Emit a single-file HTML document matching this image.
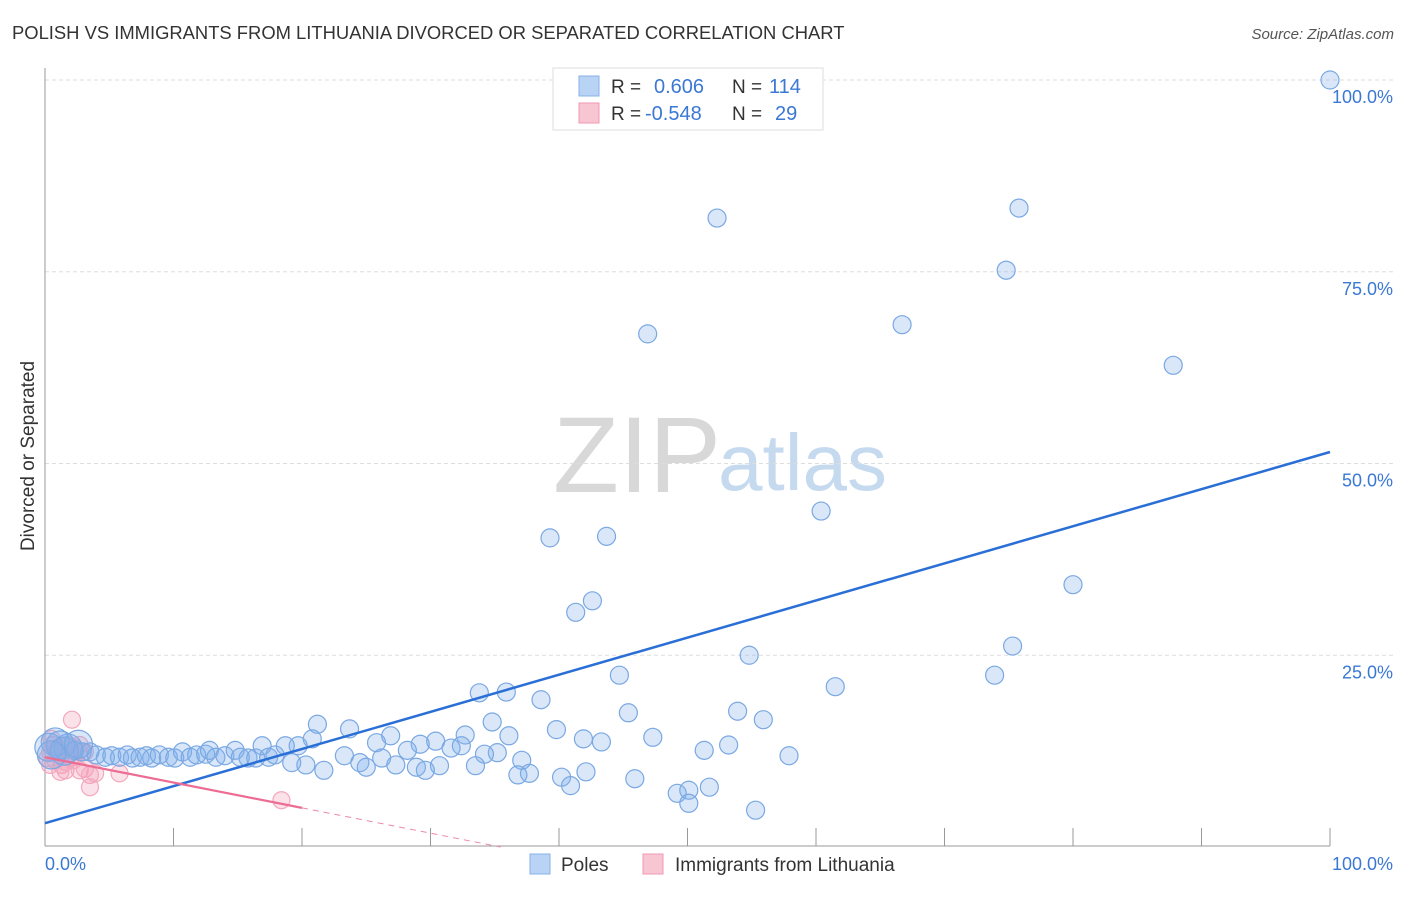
<!DOCTYPE html>
<html><head><meta charset="utf-8">
<style>
body{margin:0;background:#fff;font-family:"Liberation Sans",sans-serif;}
svg text{font-family:"Liberation Sans",sans-serif;}
</style></head>
<body>
<svg id="chart" width="1406" height="892" viewBox="0 0 1406 892" xmlns="http://www.w3.org/2000/svg">
<text x="12" y="39" font-size="18.4" fill="#333">POLISH VS IMMIGRANTS FROM LITHUANIA DIVORCED OR SEPARATED CORRELATION CHART</text>
<text x="1394" y="39" font-size="15" fill="#555" text-anchor="end" font-style="italic">Source: ZipAtlas.com</text>
<g>
<text x="553" y="492" font-size="108" fill="#d8d8d8" font-family="Liberation Serif,serif">ZIP</text>
<text x="718" y="490" font-size="80" fill="#c5d9ef">atlas</text>
</g>
<g id="grid"></g>
<line x1="45" y1="68" x2="45" y2="846" stroke="#999"/>
<line x1="45" y1="846" x2="1330" y2="846" stroke="#999"/>
<g id="ticks"></g>
<text transform="translate(34,456) rotate(-90)" font-size="19" fill="#333" text-anchor="middle">Divorced or Separated</text>
<text x="45" y="870" font-size="18" fill="#3a78d4">0.0%</text>
<text x="1393" y="870" font-size="18" fill="#3a78d4" text-anchor="end">100.0%</text>
<g id="pts"></g>
<g id="lines"></g>
<g>
<rect x="553" y="68" width="270" height="62" fill="#fff" stroke="#ddd"/>
<rect x="579" y="76" width="20" height="20" fill="#b9d3f5" stroke="#86b0e8"/>
<rect x="579" y="103" width="20" height="20" fill="#f8c6d3" stroke="#ef9ab1"/>
<text x="611" y="93" font-size="19" fill="#333">R =</text>
<text x="654" y="93" font-size="20" fill="#3a78d4">0.606</text>
<text x="732" y="93" font-size="19" fill="#333">N =</text>
<text x="769" y="93" font-size="20" fill="#3a78d4">114</text>
<text x="611" y="120" font-size="19" fill="#333">R =</text>
<text x="645" y="120" font-size="20" fill="#3a78d4">-0.548</text>
<text x="732" y="120" font-size="19" fill="#333">N =</text>
<text x="775" y="120" font-size="20" fill="#3a78d4">29</text>
</g>
<g>
<rect x="530" y="854" width="20" height="20" fill="#b9d3f5" stroke="#86b0e8"/>
<text x="561" y="871" font-size="19" fill="#333">Poles</text>
<rect x="643" y="854" width="20" height="20" fill="#f8c6d3" stroke="#ef9ab1"/>
<text x="675" y="871" font-size="19" fill="#333">Immigrants from Lithuania</text>
</g>
</svg>
<script>
const yTicks=[25,50,75,100];
const yTickLabels=["25.0%","50.0%","75.0%","100.0%"];
const xTicks=[0,10,20,30,40,50,60,70,80,90,100];
const polesX=[100,52.3,75.8,74.8,46.9,66.7,87.8,60.4,39.3,43.7,80,42.6,41.3,75.3,54.8,73.9,44.7,61.5,35.9,33.8,38.6,53.9,45.4,55.9,34.8,21.2,23.7,39.8,47.3,36.1,26.9,32.7,41.9,43.3,53.2,30.4,20.8,25.8,32.4,29.2,51.3,35.2,34.2,57.9,28.2,31.6,37.1,26.2,23.3,24.5,27.3,28.9,30.7,33.5,25,29.6,21.7,20.3,19.2,37.7,36.8,42.1,40.2,45.9,40.9,49.2,50.1,51.7,50.1,55.3,
0.8,1.2,1.8,2.3,2.9,3.5,4,4.7,5.2,5.8,6.4,6.8,7.4,7.9,8.3,8.9,9.6,10.1,10.7,11.3,11.8,12.5,12.8,13.3,14,14.8,15.2,15.8,16.4,16.9,17.4,17.9,18.7,19.7,0.3,1.5,2.6,0.5];
const polesY=[100,82,83.3,75.2,66.9,68.1,62.8,43.8,40.3,40.5,34.2,32.1,30.6,26.2,25,22.4,22.4,20.9,20.2,20.1,19.2,17.7,17.5,16.6,16.3,16,15.4,15.3,14.3,14.5,14.5,14.6,14.1,13.7,13.3,13.8,14.1,13.6,13.2,13.4,12.6,12.3,12.1,11.9,12.6,12.9,11.3,11.6,11.9,11,10.7,10.4,10.6,10.6,10.4,10,10,10.7,11,9.6,9.4,9.8,9.1,8.9,8,7,7.4,7.8,5.7,4.8,
13.7,13.3,12.9,12.6,12.4,12.4,12,11.7,11.9,11.7,12,11.6,11.7,11.9,11.6,12,11.7,11.6,12.4,11.7,12,12.1,12.6,11.7,11.9,12.6,11.7,11.6,11.6,13.2,11.7,12,13.2,13.2,13,12.5,13.4,12];
const polesBig=[70,71,72,104,105,106,107];
const lithX=[0.2,0.4,0.8,1.2,1.3,1.6,1.8,2.1,2.3,2.6,2.7,3.1,3.5,3.9,5.8,3.5,2.7,1,0.6,2,1.6,1.2,18.4,0.5,0.9,1.4,2.2,0.4,3.1];
const lithY=[11.6,12.4,11.3,12,10.7,10,13.3,16.6,12.9,12.4,10,10.2,9.4,9.6,9.6,7.8,13.3,12.9,13.3,11.6,11.1,9.8,6.1,14.1,12.6,13,11.3,10.7,12.4];
const polesTrend=[3.1,51.5];
const lithTrend=[11.7,-0.33];
const X=v=>45+v*12.85, Y=v=>847-v*7.67;
const NS="http://www.w3.org/2000/svg";
function mk(tag,attrs,parent){const e=document.createElementNS(NS,tag);for(const k in attrs)e.setAttribute(k,attrs[k]);document.getElementById(parent).appendChild(e);return e;}
yTicks.forEach((t,i)=>{
 const g=mk('line',{x1:45,x2:1393,y1:Y(t),y2:Y(t),stroke:'#ddd','stroke-dasharray':'4,3'},'grid');
 
 
 const l=mk('text',{x:1393,y:Y(t)+23,'font-size':18,fill:'#3a78d4','text-anchor':'end'},'grid');
 l.textContent=yTickLabels[i];
 
 
});
xTicks.forEach(t=>{
 const e=mk('line',{x1:X(t),x2:X(t),y1:828,y2:846,stroke:'#999'},'ticks');
 
 
});
lithX.forEach((v,i)=>{
 const c=mk('circle',{cx:X(v),cy:Y(lithY[i]),r:8.5,fill:'rgba(243,160,185,0.3)',stroke:'#f3a8bc','stroke-width':1.2},'pts');
 
 
});
polesX.forEach((v,i)=>{
 const r=polesBig.includes(i)?14:9;
 const c=mk('circle',{cx:X(v),cy:Y(polesY[i]),r:r,fill:'rgba(130,175,235,0.3)',stroke:'#7aa8e3','stroke-width':1.2},'pts');
 
 
});
const bl=mk('line',{x1:X(0),y1:Y(polesTrend[0]),x2:X(100),y2:Y(polesTrend[1]),stroke:'#2a6fd6','stroke-width':2.5},'lines');


const pl=mk('line',{x1:X(0),y1:Y(lithTrend[0]),x2:X(20),y2:Y(lithTrend[0]+lithTrend[1]*20),stroke:'#ec6c94','stroke-width':2.2},'lines');


const xEnd=-lithTrend[0]/lithTrend[1];
const pd=mk('line',{x1:X(20),y1:Y(lithTrend[0]+lithTrend[1]*20),x2:X(xEnd),y2:Y(0),stroke:'#ec8aa6','stroke-width':1,'stroke-dasharray':'6,5'},'lines');


</script>
</body></html>
